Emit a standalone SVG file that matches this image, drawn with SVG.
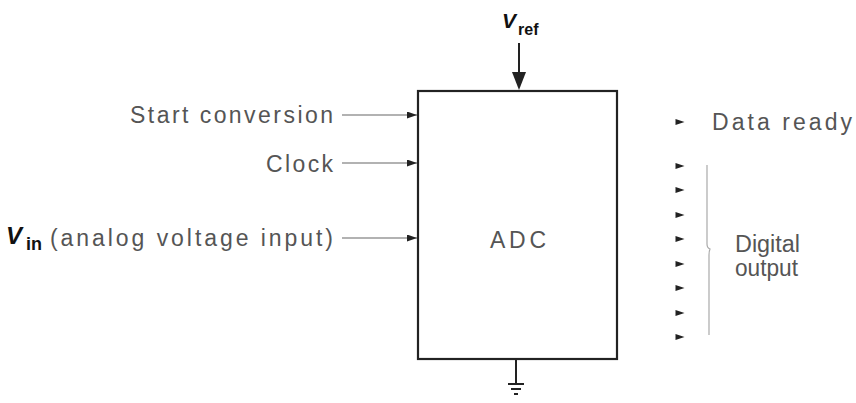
<svg xmlns="http://www.w3.org/2000/svg" width="856" height="403" viewBox="0 0 856 403">
<style>
.lbl{font-family:"Liberation Sans",Arial,sans-serif;font-size:23px;fill:#555}
.v{font-family:"Liberation Sans",Arial,sans-serif;font-weight:bold;fill:#111}
.ln{stroke:#666;stroke-width:1.2;fill:none}
.box{stroke:#222;stroke-width:2.2;fill:#fff}
.gnd{stroke:#222;stroke-width:2;fill:none}
.head{fill:#222}
</style>
<defs>
<marker id="ah" markerWidth="10" markerHeight="7" refX="10" refY="3.5" orient="auto" markerUnits="userSpaceOnUse">
<path d="M0,0 L10,3.5 L0,7 Z" fill="#222"/>
</marker>
<path id="sm" d="M-4.5,-3 L4.5,0 L-4.5,3 Z"/>
</defs>
<rect width="856" height="403" fill="#fff"/>

<g id="adc">
<rect class="box" x="418" y="91" width="199" height="268"/>
<text class="lbl" x="490" y="248" font-size="25" textLength="56" lengthAdjust="spacing">ADC</text>
</g>

<g id="vref">
<text class="v" x="502" y="28" font-size="21" font-style="italic">V</text>
<text class="v" x="518" y="35" font-size="16">ref</text>
</g>

<g id="start">
<text class="lbl" x="130" y="123" textLength="203" lengthAdjust="spacing">Start conversion</text>
</g>
<g id="clock">
<text class="lbl" x="266" y="172" textLength="67" lengthAdjust="spacing">Clock</text>
</g>
<g id="vin">
<text class="v" x="6" y="244" font-size="24" font-style="italic">V</text>
<text class="v" x="26" y="250" font-size="18">in</text>
<text class="lbl" x="50" y="246" textLength="283" lengthAdjust="spacing">(analog voltage input)</text>
</g>

<g id="dataready">
<use href="#sm" x="680" y="122" class="head"/>
<text class="lbl" x="712" y="130" textLength="140" lengthAdjust="spacing">Data ready</text>
</g>

<g id="digital">
<use href="#sm" x="680" y="166" class="head"/>
<use href="#sm" x="680" y="190" class="head"/>
<use href="#sm" x="680" y="215" class="head"/>
<use href="#sm" x="680" y="239" class="head"/>
<use href="#sm" x="680" y="264" class="head"/>
<use href="#sm" x="680" y="288" class="head"/>
<use href="#sm" x="680" y="313" class="head"/>
<use href="#sm" x="680" y="337" class="head"/>
<path d="M707,165 L707,244 Q707,248 710,249 Q709,251 709,255 L709,335" stroke="#aaa" stroke-width="1.2" fill="none"/>
<text class="lbl" x="735" y="252" textLength="65" lengthAdjust="spacingAndGlyphs">Digital</text>
<text class="lbl" x="735" y="276" textLength="63" lengthAdjust="spacingAndGlyphs">output</text>
</g>

<g id="ground">
<line class="gnd" x1="516" y1="360" x2="516" y2="384"/>
<line class="gnd" x1="508" y1="384" x2="524" y2="384"/>
<line class="gnd" x1="511" y1="389" x2="521" y2="389"/>
<line class="gnd" x1="514" y1="394" x2="518" y2="394"/>
</g>

<g id="connectors">
<line x1="519" y1="43" x2="519" y2="74" stroke="#222" stroke-width="2"/>
<path d="M512,72 L526,72 L519,90 Z" fill="#222"/>
<line class="ln" x1="342" y1="115" x2="417" y2="115" marker-end="url(#ah)"/>
<line class="ln" x1="342" y1="163" x2="417" y2="163" marker-end="url(#ah)"/>
<line class="ln" x1="342" y1="238" x2="417" y2="238" marker-end="url(#ah)"/>
</g>
</svg>
